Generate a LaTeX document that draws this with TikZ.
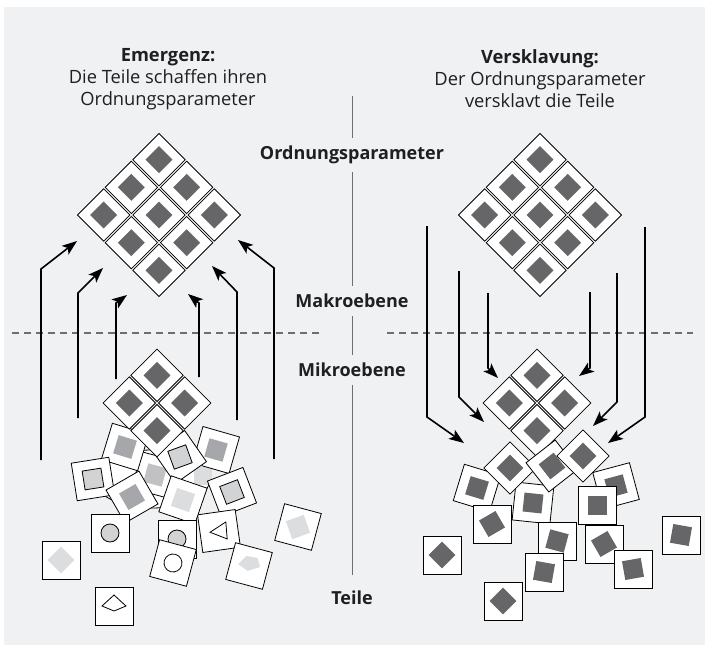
\documentclass[tikz,border=0pt]{standalone}
\usepackage{fontspec}
\setmainfont{Open Sans}
\usetikzlibrary{arrows.meta}
\definecolor{bg}{HTML}{F0F1F3}
\definecolor{dk}{HTML}{666669}
\definecolor{md}{HTML}{A6A7AA}
\definecolor{lt}{HTML}{D2D3D5}
\definecolor{vl}{HTML}{DCDDDF}
\definecolor{ln}{HTML}{6D6E70}
\tikzset{
  tileout/.style={draw=black, fill=white, line width=0.8pt},
  arr/.style={line width=1.6pt, -{Stealth[length=15pt,width=11pt,inset=3.5pt]}},
  midline/.style={draw=ln, line width=0.8pt},
  levline/.style={draw=ln, line width=1.3pt, dash pattern=on 7pt off 5pt},
  lab/.style={font=\bfseries\fontsize{18}{20}\selectfont, fill=bg, inner xsep=2pt, inner ysep=8pt, text=black!88},
  ttl/.style={font=\fontsize{18.3}{22}\selectfont, align=center, text=black!88},
  shp/.style={draw=black, line width=0.8pt}
}
\newcommand\gtile[2]{\begin{scope}[shift={(#1,#2)},rotate=45]
  \draw[tileout] (-18.5,-18.5) rectangle (18.5,18.5);
  \fill[dk] (-9.5,-9.5) rectangle (9.5,9.5);\end{scope}}
\newcommand\ptile[5]{\begin{scope}[shift={(#1,#2)},rotate=#3]
  \draw[tileout] (-19,-19) rectangle (19,19);
  \path[#5,rotate=#4] (-9.5,-9.5) rectangle (9.5,9.5);\end{scope}}
\newcommand\ctile[4]{\begin{scope}[shift={(#1,#2)},rotate=#3]
  \draw[tileout] (-19,-19) rectangle (19,19);
  \path[#4] (0,0) circle (9);\end{scope}}
\begin{document}
\begin{tikzpicture}[x=1pt,y=-1pt]
\useasboundingbox (0,0) rectangle (705,645);
\fill[bg] (4,7) rectangle (705,645);
% centre line and levels
\coordinate (ltop) at (352,96);
\coordinate (lbot) at (352,575);
\draw[midline] (ltop) -- (lbot);
\coordinate (dl1) at (12,333); \coordinate (dl2) at (320,333);
\coordinate (dr1) at (387,333); \coordinate (dr2) at (693,333);
\draw[levline] (dl1) -- (dl2);
\draw[levline] (dr1) -- (dr2);
% titles
\node[ttl] (tleft) at (168,79) {\textbf{Emergenz:}\\Die Teile schaffen ihren\\Ordnungsparameter};
\node[ttl] (tright) at (540,79) {\textbf{Versklavung:}\\Der Ordnungsparameter\\versklavt die Teile};
% labels
\node[lab] (ord) at (352,155) {Ordnungsparameter};
\node[lab] (makro) at (352,301) {Makroebene};
\node[lab] (mikro) at (352,370) {Mikroebene};
\node[lab] (teile) at (352,598) {Teile};
% left arrows
\coordinate (a1s) at (41,460); \coordinate (a1b) at (41,269); \coordinate (a1t) at (77,241);
\coordinate (a2s) at (78,418); \coordinate (a2b) at (78,293); \coordinate (a2t) at (103,268);
\coordinate (a3s) at (116,379); \coordinate (a3b) at (116,303); \coordinate (a3t) at (127,295);
\coordinate (a4s) at (199,377); \coordinate (a4b) at (199,303); \coordinate (a4t) at (188,294);
\coordinate (a5s) at (237,420); \coordinate (a5b) at (237,292); \coordinate (a5t) at (212,266);
\coordinate (a6s) at (274,459); \coordinate (a6b) at (274,268); \coordinate (a6t) at (238,240);
\foreach \k in {1,...,6}{\draw[arr] (a\k s) -- (a\k b) -- (a\k t);}
% right arrows
\coordinate (b1s) at (427,226); \coordinate (b1b) at (427,417); \coordinate (b1t) at (464,443);
\coordinate (b2s) at (459,271); \coordinate (b2b) at (459,397); \coordinate (b2t) at (484,422);
\coordinate (b3s) at (488,293); \coordinate (b3b) at (488,368); \coordinate (b3t) at (498,378);
\coordinate (b4s) at (590,292); \coordinate (b4b) at (590,368); \coordinate (b4t) at (579,376);
\coordinate (b5s) at (617,273); \coordinate (b5b) at (617,402); \coordinate (b5t) at (593,426);
\coordinate (b6s) at (645,227); \coordinate (b6b) at (645,417); \coordinate (b6t) at (608,443);
\foreach \k in {1,...,6}{\draw[arr] (b\k s) -- (b\k b) -- (b\k t);}
% big grids
\foreach \i in {-1,0,1}{\foreach \j in {-1,0,1}{
  \pgfmathsetmacro\mygx{159+(\i-\j)*27.67}\pgfmathsetmacro\mygy{215+(\i+\j)*27.67}\gtile{\mygx}{\mygy}
  \pgfmathsetmacro\mygx{540+(\i-\j)*27.67}\gtile{\mygx}{\mygy}}}
% left pile (back)
\draw[shp, fill=white] (152,479) ellipse (58 and 29);
\fill[vl] (194,467) rectangle (212,485);
\ptile{155}{475}{-15}{0}{fill=md!70}
\ptile{125}{447}{-17}{0}{fill=md}
\ptile{216}{450}{-16}{0}{fill=md}
\ptile{180}{457}{35}{-15}{fill=lt,shp}
\ptile{93}{479}{9}{0}{fill=lt,shp}
\ptile{132}{497}{30}{0}{fill=md}
\ptile{232}{492}{21}{0}{fill=lt,shp}
% left lower
\begin{scope}[shift={(219,531)},rotate=8]
  \draw[tileout] (-19,-19) rectangle (19,19);
  \draw[shp,fill=white] (-9,0) -- (8,-8) -- (7,9) -- cycle;
\end{scope}
\ptile{183}{500}{-19}{0}{fill=vl}
\ctile{110}{533}{0}{fill=lt,shp}
\ctile{177}{539}{0}{fill=lt,shp}
\ctile{173}{563}{-15}{fill=white,shp}
\begin{scope}[shift={(249,566)},rotate=-15]
  \draw[tileout] (-19,-19) rectangle (19,19);
  \fill[vl] (-11,1) -- (-5,-9) -- (6,-10) -- (11,-2) -- (0,5) -- cycle;
\end{scope}
\ptile{298}{527}{-15}{35}{fill=vl}
\ptile{61}{560}{0}{45}{fill=vl}
\begin{scope}[shift={(114,606)}]
  \draw[tileout] (-19,-19) rectangle (19,19);
  \draw[shp,fill=white] (-12,0) -- (0,-11) -- (12,0) -- (0,5) -- cycle;
\end{scope}
% left small grid
\foreach \i in {-0.5,0.5}{\foreach \j in {-0.5,0.5}{
  \pgfmathsetmacro\mygx{157+(\i-\j)*27.67}\pgfmathsetmacro\mygy{403+(\i+\j)*27.67}\gtile{\mygx}{\mygy}}}
% right pile
\ptile{616}{486}{15}{0}{fill=dk}
\ptile{477}{488}{-17}{0}{fill=dk}
\ptile{533}{503}{-6}{0}{fill=dk}
\ptile{597}{505}{0}{0}{fill=dk}
\ptile{492}{524}{0}{30}{fill=dk}
\ptile{557}{541}{0}{-15}{fill=dk}
\ptile{604}{544}{0}{30}{fill=dk}
\ptile{442}{555}{0}{45}{fill=dk}
\ptile{681}{535}{0}{-10}{fill=dk}
\ptile{544}{572}{0}{-10}{fill=dk}
\ptile{633}{569}{0}{10}{fill=dk}
\ptile{503}{601}{0}{45}{fill=dk}
% right grid cells
\foreach \i in {-0.5,0.5}{\foreach \j in {-0.5,0.5}{
  \pgfmathsetmacro\mygx{537+(\i-\j)*27.67}\pgfmathsetmacro\mygy{403+(\i+\j)*27.67}\gtile{\mygx}{\mygy}}}
\begin{scope}[shift={(510,468)},rotate=45]
  \draw[tileout] (-18.5,-18.5) rectangle (18.5,18.5);\fill[dk] (-9.5,-9.5) rectangle (9.5,9.5);\end{scope}
\begin{scope}[shift={(552,466)},rotate=38]
  \draw[tileout] (-18.5,-18.5) rectangle (18.5,18.5);\fill[dk] (-9.5,-9.5) rectangle (9.5,9.5);\end{scope}
\begin{scope}[shift={(583,456)},rotate=45]
  \draw[tileout] (-18.5,-18.5) rectangle (18.5,18.5);\fill[dk] (-9.5,-9.5) rectangle (9.5,9.5);\end{scope}
\end{tikzpicture}
\end{document}
